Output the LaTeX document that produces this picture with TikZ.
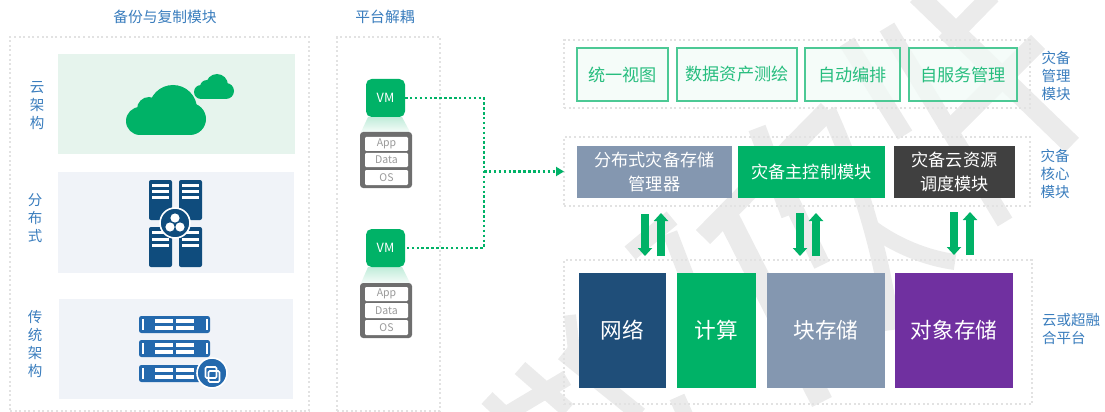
\documentclass[tikz,border=0pt]{standalone}
\usepackage{fontspec}
\setmainfont{Noto Sans CJK SC}
\usetikzlibrary{arrows.meta}
\newcommand{\px}{.25mm}
\definecolor{markgreen}{HTML}{00B267}
\definecolor{labelblue}{HTML}{3A7DBD}
\definecolor{slategrey}{HTML}{8497B0}
\definecolor{navy}{HTML}{1F4E79}
\definecolor{stone}{HTML}{404040}
\definecolor{violet}{HTML}{7030A0}
\definecolor{frameline}{HTML}{E2E2E2}
\definecolor{wmark}{HTML}{EBEBEB}
\definecolor{rackblue}{HTML}{2469AD}
\definecolor{towerblue}{HTML}{0F4C7D}
\definecolor{stackgrey}{HTML}{6E6E6E}
\definecolor{mintpanel}{HTML}{E6F4ED}
\definecolor{mistpanel}{HTML}{F0F3F8}
\tikzset{
  wh/.style 2 args={minimum width=#1*\px,minimum height=#2*\px,inner sep=0pt,outer sep=0pt},
  frame/.style={draw=frameline,line width=2*\px,dash pattern=on 2*\px off 2.6*\px},
  panel/.style={fill=#1},
  stamp/.style={wmark,line width=#1*\px,line cap=butt},
  heading/.style={text=labelblue,font=\fontsize{10.5}{13}\selectfont},
  sidetag/.style={text=labelblue,align=center,font=\fontsize{10.3}{12.8}\selectfont},
  mgmtbox/.style={draw=markgreen!70,line width=1.6*\px,fill=markgreen!5,fill opacity=.75,text opacity=1,text=markgreen!85,font=\fontsize{12.2}{17}\selectfont},
  corebox/.style={fill=#1,text=white,align=center,font=\fontsize{12.2}{17}\selectfont},
  basebox/.style={fill=#1,text=white,font=\fontsize{15.4}{20}\selectfont},
  vmbox/.style={fill=markgreen,rounded corners=1.4mm,text=white,font=\fontsize{9}{11}\selectfont},
  stackbox/.style={fill=stackgrey,rounded corners=.8mm},
  rowbox/.style={fill=white,rounded corners=.3mm,text=black!40,font=\fontsize{7.5}{9}\selectfont},
  linkline/.style={draw=markgreen,line width=2.5*\px,dash pattern=on 2.5*\px off 2.4*\px},
  flowarrow/.style={draw=markgreen,line width=7.5*\px,-{Triangle[width=14*\px,length=8*\px]}}
}
\begin{document}
\begin{tikzpicture}[x=\px,y=-\px]
\useasboundingbox (0,0) rectangle (1105,412);
% watermark
\draw[stamp=20] (917,-5) -- (1072,145);
\draw[stamp=18] (992,-5) -- (945,43);
\draw[stamp=20] (1038,42) -- (945,135);
\draw[stamp=17] (887,27) -- (1005,222);
\draw[stamp=17] (847,42) -- (905,135);
\draw[stamp=16] (828,110) .. controls (855,170) and (880,240) .. (892,330);
\draw[stamp=20] (828,110) -- (703,237);
\draw[stamp=16] (872,228) .. controls (895,245) and (925,258) .. (955,262);
\draw[stamp=22] (727,215) -- (822,402);
\draw[stamp=17] (780,178) -- (822,265);
\draw[stamp=18] (757,128) -- (790,215);
\draw[stamp=17] (630,253) -- (672,218);
\draw[stamp=15] (670,233) -- (690,285);
\draw[stamp=16] (520,368) -- (568,410);
\draw[stamp=16] (487,398) -- (505,415);
\draw[stamp=16] (505,415) -- (567,378);
\draw[stamp=16] (563,353) -- (640,415);
\draw[stamp=12] (570,315) -- (575,360);
\draw[stamp=16] (677,397) -- (685,415);
% frames
\node[frame,wh={299}{374}] (backupframe) at (159.5,224) {};
\node[frame,wh={103}{374}] (platformframe) at (388.5,224) {};
\node[frame,wh={466}{68}] (mgmtframe) at (797,74) {};
\node[frame,wh={466}{69}] (coreframe) at (797,171.5) {};
\node[frame,wh={468}{144}] (baseframe) at (798,332) {};
\node[heading] (backuptitle) at (165,17) {备份与复制模块};
\node[heading] (platformtitle) at (385,17) {平台解耦};
% left column
\node[panel=mintpanel,wh={237}{100}] (cloudpanel) at (176.5,104) {};
\node[panel=mistpanel,wh={236}{101}] (distpanel) at (176,222.5) {};
\node[panel=mistpanel,wh={234}{100}] (tradpanel) at (176,349) {};
\node[sidetag] (cloudtag) at (37,106) {云\\架\\构};
\node[sidetag] (disttag) at (35,218) {分\\布\\式};
\node[sidetag] (tradtag) at (35,344) {传\\统\\架\\构};
% clouds
\fill[markgreen] (140,121) circle[radius=14];
\fill[markgreen] (190,119) circle[radius=16];
\fill[markgreen] (173,109) circle[radius=24];
\fill[markgreen] (149,109) circle[radius=12];
\fill[markgreen] (140,115) rectangle (190,135);
\fill[markgreen] (201,92) circle[radius=7];
\fill[markgreen] (226,91) circle[radius=8];
\fill[markgreen] (217,85) circle[radius=11];
\fill[markgreen] (207,87) circle[radius=7];
\fill[markgreen] (201,90) rectangle (226,99);
% towers
\foreach \x in {149,179} {
  \fill[towerblue,rounded corners=.5mm] (\x,180) rectangle +(23,40);
  \fill[towerblue,rounded corners=.5mm] (\x,227) rectangle +(23,40);
  \foreach \y in {184,190,196,231,238,244}
    \fill[white] (\x+3,\y) rectangle +(17,3.2);
}
\draw[fill=towerblue,draw=white,line width=1.6*\px] (175,223) circle[radius=15];
\fill[white] (175,218) circle[radius=4.6];
\fill[white] (170,227) circle[radius=4.6];
\fill[white] (180,227) circle[radius=4.6];
% racks
\foreach \y in {316,340,365} {
  \fill[rackblue,rounded corners=.6mm] (139,\y) rectangle +(71,17);
  \fill[white] (142,\y+3) rectangle +(2,11);
  \fill[white] (206,\y+3) rectangle +(2,11);
  \fill[white] (155,\y+3) rectangle +(18,4);
  \fill[white] (176,\y+3) rectangle +(18,4);
  \fill[white] (155,\y+10) rectangle +(18,4);
  \fill[white] (176,\y+10) rectangle +(18,4);
}
\draw[fill=rackblue,draw=white,line width=1.6*\px] (212,373) circle[radius=15];
\draw[white,line width=1.6*\px,rounded corners=.3mm] (205.5,367) rectangle (216.5,378);
\draw[white,line width=1.6*\px,rounded corners=.3mm] (208.5,371) rectangle (219.5,382);
% VMs
\shade[top color=markgreen!25,bottom color=markgreen!4] (368,117) -- (402,117) -- (410,132) -- (361,132) -- cycle;
\shade[top color=markgreen!25,bottom color=markgreen!4] (368,267) -- (402,267) -- (410,283) -- (361,283) -- cycle;
\node[vmbox,wh={39}{38}] (vm1) at (385.5,98) {VM};
\node[vmbox,wh={39}{38}] (vm2) at (385.5,248) {VM};
\node[stackbox,wh={52}{56}] (stack1) at (386,160) {};
\node[rowbox,wh={43}{14}] (app1) at (386.5,144) {App};
\node[rowbox,wh={43}{14}] (data1) at (386.5,160) {Data};
\node[rowbox,wh={43}{15}] (os1) at (386.5,177.5) {OS};
\node[stackbox,wh={52}{55}] (stack2) at (386,310.5) {};
\node[rowbox,wh={43}{14}] (app2) at (386.5,294) {App};
\node[rowbox,wh={43}{15}] (data2) at (386.5,310.5) {Data};
\node[rowbox,wh={43}{15}] (os2) at (386.5,327.5) {OS};
\coordinate (busa) at (484,98);
\coordinate (busb) at (484,248);
\coordinate (busc) at (484,171.5);
\draw[linkline] (vm1.east) -- (busa) -- (busb) -- (vm2.east);
\draw[linkline,-{Triangle[width=9*\px,length=8*\px,sep=0pt]}] (busc) -- (coreframe.west);
% right column
\node[mgmtbox,wh={91}{53}] (view) at (622.5,74.5) {统一视图};
\node[mgmtbox,wh={120}{53}] (survey) at (737,74.5) {数据资产测绘};
\node[mgmtbox,wh={95}{53}] (orchestrate) at (852.5,74.5) {自动编排};
\node[mgmtbox,wh={108}{53}] (selfservice) at (963,74.5) {自服务管理};
\node[corebox=slategrey,wh={155}{52}] (manager) at (654.5,172) {分布式灾备存储\\管理器};
\node[corebox=markgreen,wh={147}{52}] (master) at (811.5,172) {灾备主控制模块};
\node[corebox=stone,wh={121}{52}] (scheduler) at (954.5,172) {灾备云资源\\调度模块};
\node[basebox=navy,wh={87}{115}] (network) at (622.5,330.5) {网络};
\node[basebox=markgreen,wh={79}{115}] (compute) at (716.5,330.5) {计算};
\node[basebox=slategrey,wh={118}{115}] (block) at (826,330.5) {块存储};
\node[basebox=violet,wh={118}{115}] (object) at (954,330.5) {对象存储};
\node[sidetag] (mgmttag) at (1056,76) {灾备\\管理\\模块};
\node[sidetag] (coretag) at (1055,174) {灾备\\核心\\模块};
\node[sidetag,align=left] (basetag) at (1071,329) {云或超融\\合平台};
% arrows
\coordinate (downa1) at (645,214);
\coordinate (downa2) at (645,256);
\coordinate (upa1) at (661,256);
\coordinate (upa2) at (661,213);
\coordinate (downb1) at (800,213);
\coordinate (downb2) at (800,256);
\coordinate (upb1) at (816,256);
\coordinate (upb2) at (816,213);
\coordinate (downc1) at (954,212);
\coordinate (downc2) at (954,255);
\coordinate (upc1) at (970,255);
\coordinate (upc2) at (970,212);
\draw[flowarrow] (downa1) -- (downa2);
\draw[flowarrow] (upa1) -- (upa2);
\draw[flowarrow] (downb1) -- (downb2);
\draw[flowarrow] (upb1) -- (upb2);
\draw[flowarrow] (downc1) -- (downc2);
\draw[flowarrow] (upc1) -- (upc2);
\end{tikzpicture}
\end{document}
